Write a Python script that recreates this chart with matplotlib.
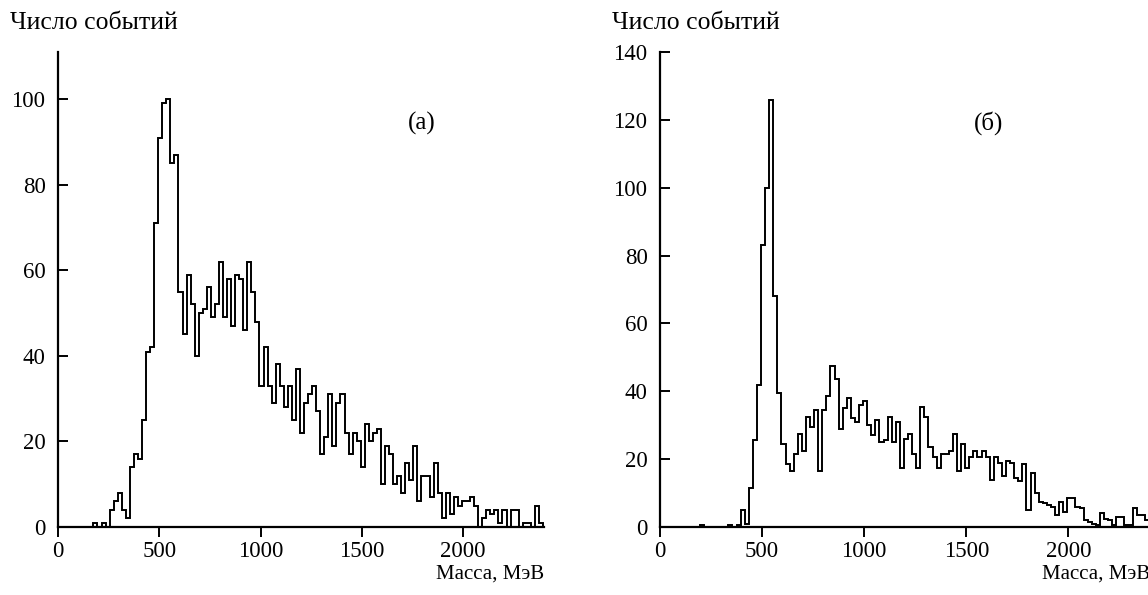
import numpy as np
import matplotlib
matplotlib.use("Agg")
import matplotlib.pyplot as plt

plt.rcParams["font.family"] = ["Liberation Serif", "DejaVu Serif"]

# histogram data: 20 MeV bins, counts
bin_width = 20
left_start = 175    # MeV, left edge of first bin, panel (а)
right_start = 195   # MeV, left edge of first bin, panel (б)

left_counts = [
    1, 0, 1, 0, 4, 6, 8, 4, 2, 14,
    17, 16, 25, 41, 42, 71, 91, 99, 100, 85,
    87, 55, 45, 59, 52, 40, 50, 51, 56, 49,
    52, 62, 49, 58, 47, 59, 58, 46, 62, 55,
    48, 33, 42, 33, 29, 38, 33, 28, 33, 25,
    37, 22, 29, 31, 33, 27, 17, 21, 31, 19,
    29, 31, 22, 17, 22, 20, 14, 24, 20, 22,
    23, 10, 19, 17, 10, 12, 8, 15, 11, 19,
    6, 12, 12, 7, 15, 8, 2, 8, 3, 7,
    5, 6, 6, 7, 5, 0, 2, 4, 3, 4,
    1, 4, 0, 4, 4, 0, 1, 1, 0, 5,
    1,
]

right_counts = [
    0.5, 0, 0, 0, 0, 0, 0, 0.5, 0, 0.5,
    5, 1, 11.5, 25.5, 42, 83, 100, 126, 68, 39.5,
    24.5, 18.5, 16.5, 21.5, 27.5, 22.5, 32.5, 29.5, 34.5, 16.5,
    34.5, 38.5, 47.5, 43.5, 29, 35, 38, 32, 31, 36,
    37, 30, 27, 31.5, 25, 25.5, 32.5, 25, 31, 17.5,
    26, 27.5, 21.5, 17.5, 35.5, 32.5, 23.5, 20.5, 17.5, 21.5,
    21.5, 22.5, 27.5, 16.5, 24.5, 17.5, 20.5, 22.5, 20.5, 22.5,
    20.5, 14, 20.5, 19, 15, 19.5, 19, 14.5, 13.5, 18.5,
    5, 16, 10, 7.5, 7, 6.5, 6, 3.5, 7.5, 4.5,
    8.5, 8.5, 6, 5.5, 2, 1.5, 1, 0.5, 4, 2.5,
    2, 0.5, 3, 3, 0.5, 0.5, 5.5, 3.5, 3.5, 2,
    1.5,
]

x_ticks = [0, 500, 1000, 1500, 2000]
left_yticks = [0, 20, 40, 60, 80, 100]
right_yticks = [0, 20, 40, 60, 80, 100, 120, 140]

ylabel = "Число событий"
xlabel = "Масса, МэВ"

W, H = 1148, 595
fig = plt.figure(figsize=(W / 100, H / 100), dpi=100)
ax1 = fig.add_axes([58 / W, 68 / H, 486 / W, 475 / H])
ax2 = fig.add_axes([660 / W, 68 / H, 490 / W, 475 / H])


def draw_panel(ax, counts, start, yticks, ymax, tag, tag_x):
    edges = start + bin_width * np.arange(len(counts) + 1)
    ax.stairs(counts, edges, color="black", lw=1.4, baseline=0)
    ax.set_xlim(0, 2400)
    ax.set_ylim(0, ymax)
    ax.set_xticks(x_ticks)
    ax.set_yticks(yticks)
    for s in ["top", "right"]:
        ax.spines[s].set_visible(False)
    for s in ["left", "bottom"]:
        ax.spines[s].set_linewidth(1.6)
    ax.tick_params(axis="y", direction="in", length=7, width=1.4, pad=9, labelsize=16.5)
    ax.tick_params(axis="x", direction="out", length=7, width=1.4, pad=3, labelsize=16.5)
    ax.text(tag_x, 0.85, tag, transform=ax.transAxes, ha="center", va="center", fontsize=18)
    ax.text(1.0, -0.1, xlabel, transform=ax.transAxes, ha="right", va="center", fontsize=15)


draw_panel(ax1, left_counts, left_start, left_yticks, 111, "(а)", 0.749)
draw_panel(ax2, right_counts, right_start, right_yticks, 140, "(б)", 0.671)

fig.text(10 / W, 1 - 23 / H, ylabel, ha="left", va="center", fontsize=18.5)
fig.text(612 / W, 1 - 23 / H, ylabel, ha="left", va="center", fontsize=18.5)

fig.savefig("out.png", dpi=100)
